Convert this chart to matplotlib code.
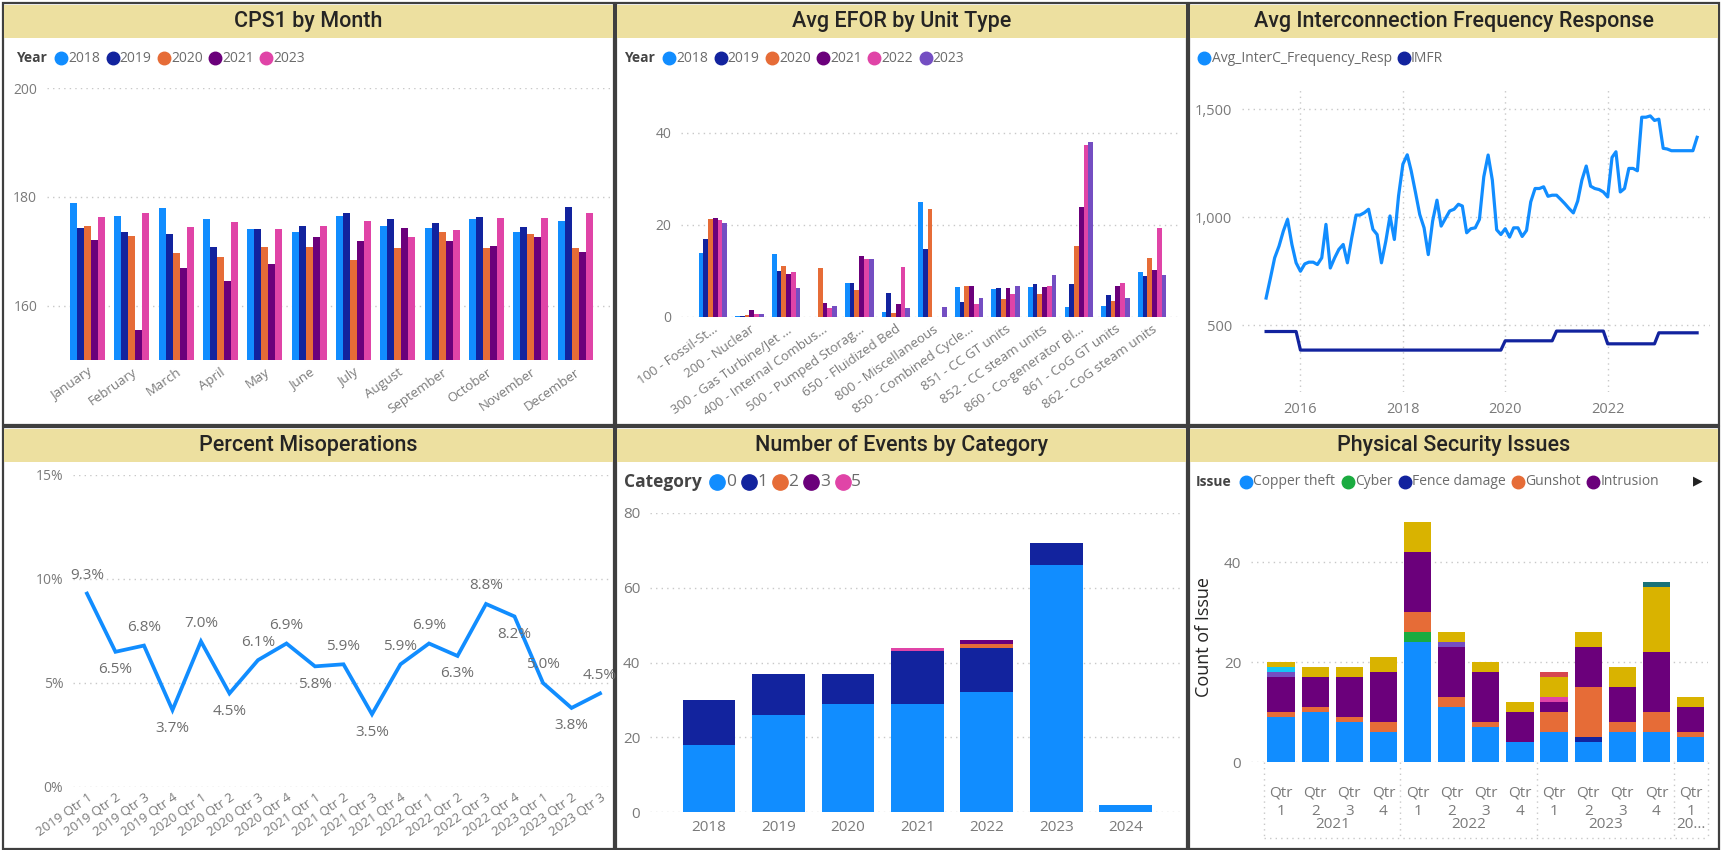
import matplotlib
matplotlib.use("Agg")
import matplotlib.pyplot as plt
import matplotlib.dates as mdates
from matplotlib.patches import Rectangle
from matplotlib.lines import Line2D
from matplotlib.transforms import blended_transform_factory
import numpy as np
import pandas as pd

# ---------------- data ----------------
months = ["January", "February", "March", "April", "May", "June", "July",
          "August", "September", "October", "November", "December"]
cps1_years = ["2018", "2019", "2020", "2021", "2023"]
cps1_2018 = [178.8, 176.5, 178.0, 175.9, 174.0, 173.6, 176.5, 174.6, 174.3, 175.9, 173.6, 175.6]
cps1_2019 = [174.2, 173.5, 173.1, 170.7, 174.0, 174.6, 177.0, 176.0, 175.2, 176.3, 174.5, 178.2]
cps1_2020 = [174.6, 172.8, 169.6, 168.9, 170.7, 170.7, 168.3, 170.5, 173.6, 170.5, 173.2, 170.5]
cps1_2021 = [172.1, 155.6, 166.9, 164.6, 167.7, 172.7, 171.8, 174.3, 171.9, 171.0, 172.6, 169.9]
cps1_2023 = [176.3, 177.0, 174.4, 175.4, 174.0, 174.6, 175.6, 172.7, 173.9, 176.1, 176.1, 177.0]

unit_types = ["100 - Fossil-St...", "200 - Nuclear", "300 - Gas Turbine/Jet ...",
              "400 - Internal Combus...", "500 - Pumped Storag...", "650 - Fluidized Bed",
              "800 - Miscellaneous", "850 - Combined Cycle...", "851 - CC GT units",
              "852 - CC steam units", "860 - Co-generator Bl...", "861 - CoG GT units",
              "862 - CoG steam units"]
efor_years = ["2018", "2019", "2020", "2021", "2022", "2023"]
efor_2018 = [14.0, 0.3, 13.8, 0.0, 7.3, 1.1, 25.1, 6.5, 6.0, 6.5, 2.2, 2.3, 9.7]
efor_2019 = [16.9, 0.3, 10.0, 0.0, 7.3, 5.3, 14.7, 3.3, 6.3, 7.1, 7.1, 4.7, 8.9]
efor_2020 = [21.3, 0.5, 11.1, 10.7, 5.8, 0.9, 23.4, 6.8, 3.9, 5.1, 15.4, 3.4, 12.9]
efor_2021 = [21.5, 1.5, 9.3, 3.1, 13.2, 2.8, 0.0, 6.8, 6.2, 6.5, 24.0, 6.8, 10.3]
efor_2022 = [21.0, 0.6, 9.8, 2.0, 12.7, 10.9, 0.0, 2.8, 4.9, 6.8, 37.3, 7.5, 19.4]
efor_2023 = [20.4, 0.6, 6.4, 2.4, 12.7, 2.0, 2.2, 4.1, 6.7, 9.1, 38.0, 4.1, 9.1]

freq_start = "2015-05-01"
freq_resp = [625, 718, 811, 865, 935, 989, 873, 788, 749, 783, 791, 791, 780, 811, 966,
             764, 811, 850, 873, 788, 904, 1009, 1009, 1020, 1036, 943, 919, 788, 888,
             1005, 896, 1098, 1245, 1288, 1214, 1113, 1012, 950, 826, 981, 1078, 958,
             994, 1028, 1036, 1059, 1051, 927, 946, 950, 989, 1186, 1287, 1171, 941,
             919, 946, 907, 950, 950, 910, 938, 1070, 1132, 1132, 1140, 1096, 1101,
             1101, 1081, 1062, 1039, 1019, 1074, 1171, 1236, 1143, 1132, 1127, 1116,
             1093, 1276, 1302, 1116, 1132, 1225, 1225, 1214, 1462, 1462, 1468, 1447,
             1453, 1318, 1315, 1307, 1307, 1307, 1307, 1307, 1307, 1369]
imfr_by_year = {2015: 470, 2016: 384, 2017: 384, 2018: 384, 2019: 384,
                2020: 427, 2021: 472, 2022: 413, 2023: 464}

misop_quarters = ["2019 Qtr 1", "2019 Qtr 2", "2019 Qtr 3", "2019 Qtr 4",
                  "2020 Qtr 1", "2020 Qtr 2", "2020 Qtr 3", "2020 Qtr 4",
                  "2021 Qtr 1", "2021 Qtr 2", "2021 Qtr 3", "2021 Qtr 4",
                  "2022 Qtr 1", "2022 Qtr 2", "2022 Qtr 3", "2022 Qtr 4",
                  "2023 Qtr 1", "2023 Qtr 2", "2023 Qtr 3"]
misop_pct = [9.3, 6.5, 6.8, 3.7, 7.0, 4.5, 6.1, 6.9, 5.8, 5.9, 3.5, 5.9, 6.9, 6.3,
             8.8, 8.2, 5.0, 3.8, 4.5]
misop_label_above = [1, 0, 1, 0, 1, 0, 1, 1, 0, 1, 0, 1, 1, 0, 1, 0, 1, 0, 1]

event_years = ["2018", "2019", "2020", "2021", "2022", "2023", "2024"]
event_cats = ["0", "1", "2", "3", "5"]
events_cat0 = [18, 26, 29, 29, 32, 66, 2]
events_cat1 = [12, 11, 8, 14, 12, 6, 0]
events_cat2 = [0, 0, 0, 0, 1, 0, 0]
events_cat3 = [0, 0, 0, 0, 1, 0, 0]
events_cat5 = [0, 0, 0, 1, 0, 0, 0]

sec_quarters = ["Qtr\n1", "Qtr\n2", "Qtr\n3", "Qtr\n4"] * 3 + ["Qtr\n1"]
sec_year_labels = ["2021", "2022", "2023", "20..."]
sec_issues = ["Copper theft", "Cyber", "Fence damage", "Gunshot", "Intrusion",
              "Other", "Sabotage", "Suspicious activity", "Theft", "Threat", "Vandalism"]
sec_copper = [9, 10, 8, 6, 24, 11, 7, 4, 6, 4, 6, 6, 5]
sec_cyber = [0, 0, 0, 0, 2, 0, 0, 0, 0, 0, 0, 0, 0]
sec_fence = [0, 0, 0, 0, 0, 0, 0, 0, 0, 1, 0, 0, 0]
sec_gunshot = [1, 1, 1, 2, 4, 2, 1, 0, 4, 10, 2, 4, 1]
sec_intrusion = [7, 6, 8, 10, 12, 10, 10, 6, 2, 8, 7, 12, 5]
sec_other = [0, 0, 0, 0, 0, 0, 0, 0, 1, 0, 0, 0, 0]
sec_sabotage = [1, 0, 0, 0, 0, 1, 0, 0, 0, 0, 0, 0, 0]
sec_suspicious = [1, 0, 0, 0, 0, 0, 0, 0, 0, 0, 0, 0, 0]
sec_theft = [1, 2, 2, 3, 6, 2, 2, 2, 4, 3, 4, 13, 2]
sec_threat = [0, 0, 0, 0, 0, 0, 0, 0, 1, 0, 0, 0, 0]
sec_vandalism = [0, 0, 0, 0, 0, 0, 0, 0, 0, 0, 0, 1, 0]

# ---------------- style ----------------
BLUE, NAVY, ORANGE, PURPLE, PINK, VIOLET = "#118DFF", "#12239E", "#E66C37", "#6B007B", "#E044A7", "#744EC2"
YELLOW, RED, TEAL, GREEN, CYAN = "#D9B300", "#D64550", "#197278", "#1AAB40", "#15C6F4"

plt.rcParams['font.family'] = ['Open Sans', 'DejaVu Sans']
TITLE_FONT = ['Roboto', 'DejaVu Sans']
TICK_C = '#7a7a7a'
GRID_KW = dict(color='#c8c8c8', linestyle=(0, (1, 3)), linewidth=1.0)
BAND = '#EDE0A0'

W, H = 1721, 850
fig = plt.figure(figsize=(W / 100, H / 100), dpi=100)
fig.patch.set_facecolor('white')
renderer = fig.canvas.get_renderer()


def px_axes(x0, y0, x1, y1):
    return fig.add_axes([x0 / W, 1 - y1 / H, (x1 - x0) / W, (y1 - y0) / H])


def style_axes(ax, size=10, xgrid=False):
    for s in ax.spines.values():
        s.set_visible(False)
    ax.tick_params(length=0, colors=TICK_C, labelsize=size)
    ax.tick_params(axis='y', pad=7)
    ax.set_axisbelow(True)
    ax.yaxis.grid(True, **GRID_KW)
    if xgrid:
        ax.xaxis.grid(True, **GRID_KW)
    ax.set_facecolor('none')


def inline_legend(x, y, title, labels, colors, fs=10, msize=9, gap=6, title_fs=None):
    cx = x
    fy = 1 - y / H
    if title:
        t = fig.text(cx / W, fy, title, fontsize=title_fs or fs, fontweight='bold',
                     color='#444444', va='center', ha='left')
        cx += t.get_window_extent(renderer=renderer).width + 8
    for lab, c in zip(labels, colors):
        r = msize * 100 / 72 / 2
        fig.add_artist(Line2D([(cx + r) / W], [fy], marker='o', markersize=msize,
                              color=c, linestyle='none', transform=fig.transFigure))
        cx += 2 * r + 1
        t = fig.text(cx / W, fy, lab, fontsize=fs, color='#6b6b6b', va='center', ha='left')
        cx += t.get_window_extent(renderer=renderer).width + gap
    return cx


# ---------------- panel frames ----------------
panels = [(3, 3, 614, 425), (616, 3, 1187, 425), (1189, 3, 1719, 425),
          (3, 427, 614, 849), (616, 427, 1187, 849), (1189, 427, 1719, 849)]
titles = ["CPS1 by Month", "Avg EFOR by Unit Type", "Avg Interconnection Frequency Response",
          "Percent Misoperations", "Number of Events by Category", "Physical Security Issues"]
for (x0, y0, x1, y1), t in zip(panels, titles):
    fig.add_artist(Rectangle((x0 / W, 1 - y1 / H), (x1 - x0) / W, (y1 - y0) / H,
                             transform=fig.transFigure, facecolor='white',
                             edgecolor='#3f3f3f', lw=1.6, zorder=-2))
    fig.add_artist(Rectangle(((x0 + 1) / W, 1 - (y0 + 35) / H), (x1 - x0 - 2) / W, 33 / H,
                             transform=fig.transFigure, facecolor=BAND,
                             edgecolor='none', zorder=-1))
    fig.text(((x0 + x1) / 2) / W, 1 - (y0 + 18.5) / H, t, ha='center', va='center',
             fontsize=15.5, family=TITLE_FONT, fontweight='medium', color='#252423')

# ---------------- 1. CPS1 by Month ----------------
ax1 = px_axes(47, 88, 612, 360)
style_axes(ax1)
x = np.arange(len(months))
cps1_series = [cps1_2018, cps1_2019, cps1_2020, cps1_2021, cps1_2023]
cps1_colors = [BLUE, NAVY, ORANGE, PURPLE, PINK]
bw = 0.79 / len(cps1_series)
for i, (vals, c) in enumerate(zip(cps1_series, cps1_colors)):
    ax1.bar(x - 0.395 + bw * (i + 0.5), np.array(vals) - 150, bw, bottom=150, color=c)
ax1.set_ylim(150, 200)
ax1.set_yticks([160, 180, 200])
ax1.set_xlim(-0.91, 11.83)
ax1.set_xticks(x)
ax1.set_xticklabels(months, rotation=35, ha='right', va='top', rotation_mode='anchor')
ax1.tick_params(axis='x', pad=4, labelsize=9.5)
inline_legend(16, 58, "Year", cps1_years, cps1_colors)

# ---------------- 2. Avg EFOR by Unit Type ----------------
ax2 = px_axes(681, 110, 1178, 317)
style_axes(ax2)
x = np.arange(len(unit_types))
efor_series = [efor_2018, efor_2019, efor_2020, efor_2021, efor_2022, efor_2023]
efor_colors = [BLUE, NAVY, ORANGE, PURPLE, PINK, VIOLET]
bw = 0.78 / len(efor_series)
for i, (vals, c) in enumerate(zip(efor_series, efor_colors)):
    ax2.bar(x - 0.39 + bw * (i + 0.5), vals, bw, color=c)
ax2.set_ylim(0, 45)
ax2.set_yticks([0, 20, 40])
ax2.set_xlim(-0.87, 12.71)
ax2.set_xticks(x)
ax2.set_xticklabels(unit_types, rotation=35, ha='right', va='top', rotation_mode='anchor')
ax2.tick_params(axis='x', pad=4, labelsize=9.5)
inline_legend(624, 58, "Year", efor_years, efor_colors)

# ---------------- 3. Avg Interconnection Frequency Response ----------------
ax3 = px_axes(1242, 90, 1710, 392)
style_axes(ax3, xgrid=True)
dates = pd.date_range(freq_start, periods=len(freq_resp), freq="MS")
imfr = [imfr_by_year[d.year] for d in dates]
ax3.plot(dates, freq_resp, color=BLUE, lw=2.3, solid_joinstyle='round')
ax3.plot(dates, imfr, color=NAVY, lw=2.3, solid_joinstyle='round')
ax3.set_ylim(190, 1588)
ax3.set_yticks([500, 1000, 1500])
ax3.set_yticklabels(["500", "1,000", "1,500"])
ax3.set_xlim(pd.Timestamp("2014-11-10"), pd.Timestamp("2024-01-01"))
ax3.set_xticks([pd.Timestamp(f"{y}-01-01") for y in (2016, 2018, 2020, 2022)])
ax3.xaxis.set_major_formatter(mdates.DateFormatter("%Y"))
ax3.tick_params(axis='x', pad=7, labelsize=10.5)
ax3.tick_params(axis='y', labelsize=10.5)
inline_legend(1198, 58, None, ["Avg_InterC_Frequency_Resp", "IMFR"], [BLUE, NAVY])

# ---------------- 4. Percent Misoperations ----------------
ax4 = px_axes(73, 475, 612, 787)
style_axes(ax4)
x = np.arange(len(misop_quarters))
vals = np.array(misop_pct) / 100
ax4.plot(x, vals, color=BLUE, lw=2.7, solid_joinstyle='miter')
for xi, v, above in zip(x, misop_pct, misop_label_above):
    ax4.annotate(f"{v:.1f}%", (xi, v / 100), xytext=(0, 18 if above else -18),
                 textcoords='offset pixels', ha='center', va='center',
                 fontsize=11, color='#6e6e6e')
ax4.set_ylim(0, 0.15)
ax4.set_yticks([0, 0.05, 0.10, 0.15])
ax4.set_yticklabels(["0%", "5%", "10%", "15%"])
ax4.set_xlim(-0.49, 18.42)
ax4.set_xticks(x)
ax4.set_xticklabels(misop_quarters, rotation=35, ha='right', va='top', rotation_mode='anchor')
ax4.tick_params(axis='x', pad=3, labelsize=9.5)

# ---------------- 5. Number of Events by Category ----------------
ax5 = px_axes(650, 513, 1180, 812)
style_axes(ax5, size=11)
x = np.arange(len(event_years))
ev_series = [events_cat0, events_cat1, events_cat2, events_cat3, events_cat5]
ev_colors = [BLUE, NAVY, ORANGE, PURPLE, PINK]
bottom = np.zeros(len(event_years))
for vals, c in zip(ev_series, ev_colors):
    ax5.bar(x, vals, 0.76, bottom=bottom, color=c)
    bottom += np.array(vals)
ax5.set_ylim(0, 80)
ax5.set_yticks([0, 20, 40, 60, 80])
ax5.set_xlim(-0.85, 6.78)
ax5.set_xticks(x)
ax5.set_xticklabels(event_years)
ax5.tick_params(axis='x', pad=6)
inline_legend(624, 482, "Category", event_cats, ev_colors, fs=12.5, msize=11, gap=5)

# ---------------- 6. Physical Security Issues ----------------
ax6 = px_axes(1251, 512, 1708, 762)
style_axes(ax6, size=11)
x = np.arange(len(sec_quarters))
sec_series = [sec_copper, sec_cyber, sec_fence, sec_gunshot, sec_intrusion, sec_other,
              sec_sabotage, sec_suspicious, sec_theft, sec_threat, sec_vandalism]
sec_colors = [BLUE, GREEN, NAVY, ORANGE, PURPLE, PINK, VIOLET, CYAN, YELLOW, RED, TEAL]
bottom = np.zeros(len(sec_quarters))
for vals, c in zip(sec_series, sec_colors):
    ax6.bar(x, vals, 0.8, bottom=bottom, color=c)
    bottom += np.array(vals)
ax6.set_ylim(0, 50)
ax6.set_yticks([0, 20, 40])
ax6.set_xlim(-0.88, 12.51)
ax6.set_xticks(x)
ax6.set_xticklabels(sec_quarters, linespacing=1.35)
ax6.tick_params(axis='x', pad=17)
ax6.set_ylabel("Count of Issue", fontsize=13, color='#252423', labelpad=8)
blend = blended_transform_factory(ax6.transData, ax6.transAxes)
year_centers = [1.5, 5.5, 9.5, 12.0]
for xc, lab in zip(year_centers, sec_year_labels):
    ax6.text(xc, -0.25, lab, transform=blend, ha='center', va='center',
             fontsize=11, color=TICK_C)
for xs in [-0.5, 3.5, 7.5, 11.5, 12.5]:
    ax6.plot([xs, xs], [0, -0.305], transform=blend, clip_on=False, **GRID_KW)
ax6.plot([-0.5, 12.5], [-0.305, -0.305], transform=blend, clip_on=False, **GRID_KW)
inline_legend(1196, 482, "Issue", sec_issues[:5], sec_colors[:5], fs=10)
fig.text(1698 / W, 1 - 481 / H, "\u25B6", fontsize=9, color='#222222',
         ha='center', va='center', family=['DejaVu Sans'])

fig.savefig("out.png", dpi=100, facecolor='white')
